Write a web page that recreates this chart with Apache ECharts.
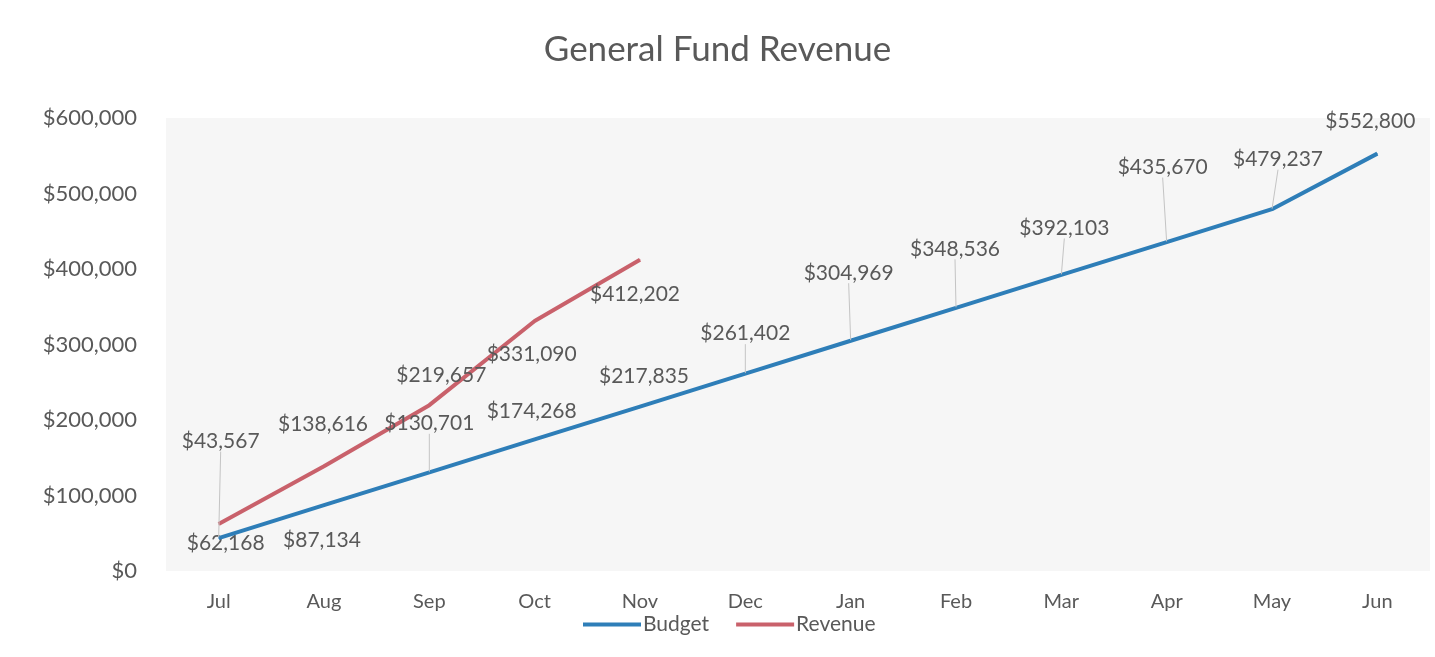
<!DOCTYPE html>
<html>
<head>
<meta charset="utf-8">
<script src="https://cdn.jsdelivr.net/npm/echarts@6/dist/echarts.min.js"></script>
<style>
    html, body { margin: 0; padding: 0; background: #fff; }
    #chart { width: 1435px; height: 657px; }
</style>
</head>
<body>
<div id="chart"></div>
<script>
const months = ['Jul', 'Aug', 'Sep', 'Oct', 'Nov', 'Dec', 'Jan', 'Feb', 'Mar', 'Apr', 'May', 'Jun'];
const budget = [43567, 87134, 130701, 174268, 217835, 261402, 304969, 348536, 392103, 435670, 479237, 552800];
const revenue = [62168, 138616, 219657, 331090, 412202];
const yTicks = [0, 100000, 200000, 300000, 400000, 500000, 600000];

// label shifts from each point, pixels (Excel callouts were dragged around)
const budgetShift = [[2, -97], [-2, 35], [0, -49], [-3, -28], [4, -30], [0, -40], [-2, -68], [-1, -59], [3, -47], [-4, -75], [6, -50], [-7, -32]];
const budgetLeader = [true, false, true, false, false, true, true, true, true, true, true, false];
const revenueShift = [[7, 19], [-1, -42], [12, -30], [-3, 33], [-5, 34]];

const font = 'Lato, "Open Sans", sans-serif';
const textColor = '#595959';

const money = (v) => '$' + v.toLocaleString('en-US');

let myChart = echarts.init(document.getElementById('chart'));
myChart.setOption({
    'backgroundColor': '#ffffff',
    'textStyle': { 'fontFamily': font },
    'title': {
        'text': 'General Fund Revenue',
        'left': 'center',
        'top': 27,
        'textStyle': { 'color': textColor, 'fontSize': 35, 'fontWeight': 'normal', 'fontFamily': font }
    },
    'legend': {
        'data': ['Budget', 'Revenue'],
        'bottom': 17,
        'left': 578,
        'itemWidth': 58,
        'itemHeight': 4,
        'itemGap': 27,
        'icon': 'rect',
        'textStyle': { 'color': textColor, 'fontSize': 21, 'padding': [0, 0, 0, -3] }
    },
    'grid': {
        'left': 166,
        'right': 5,
        'top': 118,
        'bottom': 86,
        'show': true,
        'backgroundColor': '#f6f6f6',
        'borderWidth': 0
    },
    'xAxis': {
        'type': 'category',
        'data': months,
        'boundaryGap': true,
        'axisLine': { 'show': false },
        'axisTick': { 'show': false },
        'axisLabel': { 'color': textColor, 'fontSize': 20, 'margin': 21 }
    },
    'yAxis': {
        'type': 'value',
        'min': yTicks[0],
        'max': yTicks[yTicks.length - 1],
        'interval': 100000,
        'splitLine': { 'show': false },
        'axisLine': { 'show': false },
        'axisTick': { 'show': false },
        'axisLabel': { 'color': textColor, 'fontSize': 22, 'margin': 29, 'formatter': money }
    },
    'series': [{
        'name': 'Budget',
        'type': 'line',
        'data': budget.map((v, i) => ({ 'value': v, 'labelLine': { 'show': budgetLeader[i] } })),
        'symbol': 'circle',
        'symbolSize': 1,
        'lineStyle': { 'color': '#2e7eb8', 'width': 4 },
        'itemStyle': { 'color': '#2e7eb8' },
        'label': {
            'show': true,
            'position': 'inside',
            'color': textColor,
            'fontSize': 21,
            'formatter': (p) => money(p.value)
        },
        'labelLine': { 'show': true, 'lineStyle': { 'color': '#c4c4c4', 'width': 1 } },
        'labelLayout': (p) => ({ 'dx': budgetShift[p.dataIndex][0], 'dy': budgetShift[p.dataIndex][1] }),
        'z': 3
    }, {
        'name': 'Revenue',
        'type': 'line',
        'data': revenue,
        'symbol': 'circle',
        'symbolSize': 1,
        'lineStyle': { 'color': '#c9616b', 'width': 4 },
        'itemStyle': { 'color': '#c9616b' },
        'label': {
            'show': true,
            'position': 'inside',
            'color': textColor,
            'fontSize': 21,
            'formatter': (p) => money(p.value)
        },
        'labelLayout': (p) => ({ 'dx': revenueShift[p.dataIndex][0], 'dy': revenueShift[p.dataIndex][1] }),
        'z': 2
    }]
});
</script>
</body>
</html>
